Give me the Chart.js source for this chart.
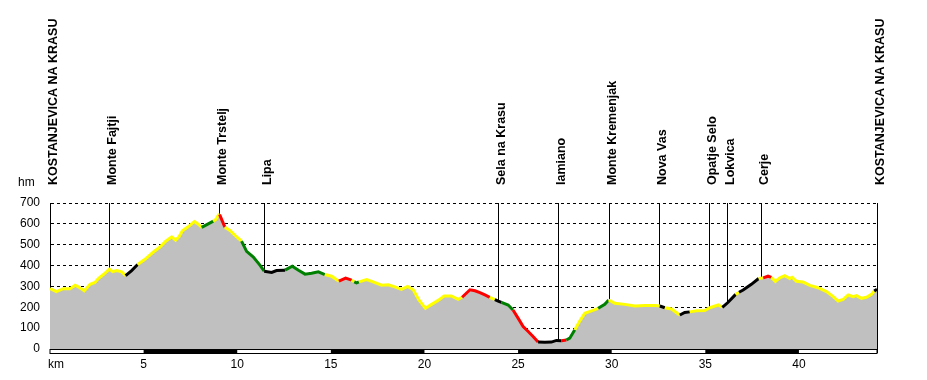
<!DOCTYPE html>
<html>
<head>
<meta charset="utf-8">
<script src="https://cdn.jsdelivr.net/npm/chart.js@4/dist/chart.umd.min.js"></script>
<style>
    html, body { margin: 0; padding: 0; background: #fff; }
    #wrap { width: 927px; height: 380px; }
</style>
</head>
<body>
<div id="wrap"><canvas id="profile"></canvas></div>
<script>
// distance along the route (km)
const KM = [
    0.00, 0.34, 0.71, 1.07, 1.34, 1.51, 1.83, 2.14, 2.40, 2.58, 2.85, 3.17, 3.35, 3.56, 3.83,
    4.04, 4.36, 4.68, 5.07, 5.52, 5.87, 6.18, 6.50, 6.71, 6.89, 7.07, 7.39, 7.71, 7.92,
    8.10, 8.45, 8.72, 8.85, 9.00, 9.06, 9.34, 9.61, 9.97, 10.23, 10.50, 10.86, 11.21,
    11.44, 11.84, 12.10, 12.55, 12.94, 13.27, 13.62, 13.97, 14.33, 14.68, 15.04, 15.43,
    15.79, 16.11, 16.25, 16.37, 16.50, 16.91, 17.26, 17.71, 18.06, 18.42, 18.77, 19.10,
    19.40, 19.70, 20.05, 20.38, 20.73, 21.05, 21.44, 21.80, 22.01, 22.43, 22.70, 22.96,
    23.23, 23.49, 23.76, 23.94, 24.11, 24.47, 24.73, 25.00, 25.27, 25.54, 25.80, 26.07,
    26.43, 26.78, 27.05, 27.32, 27.58, 27.76, 28.03, 28.30, 28.56, 28.92, 29.28, 29.63,
    29.84, 30.17, 30.70, 31.24, 31.77, 32.31, 32.57, 32.84, 33.20, 33.55, 33.64, 33.90,
    34.17, 34.53, 34.97, 35.24, 35.69, 35.91, 36.22, 36.62, 36.80, 37.02, 37.46, 37.85,
    38.09, 38.35, 38.53, 38.74, 38.98, 39.24, 39.51, 39.63, 39.86, 40.22, 40.58, 41.02,
    41.47, 41.83, 42.09, 42.36, 42.63, 42.90, 43.07, 43.34, 43.61, 43.87, 44.02, 44.17,
];

// elevation (m)
const ELEV = [
    290, 275, 289, 289, 306, 298, 279, 310, 319, 338, 357, 383, 371, 376, 370,
    352, 376, 405, 430, 465, 489, 517, 538, 522, 538, 567, 587, 611, 598,
    583, 600, 613, 621, 643, 644, 584, 568, 537, 517, 468, 441, 402,
    373, 367, 376, 378, 397, 378, 359, 363, 370, 357, 349, 325,
    340, 330, 322, 317, 322, 333, 322, 306, 308, 298, 286, 300,
    284, 235, 195, 214, 233, 254, 254, 238, 248, 284, 279, 270,
    259, 248, 237, 230, 224, 211, 187, 148, 108, 84, 60, 33,
    32, 33, 41, 40, 43, 52, 92, 135, 171, 183, 195, 214,
    235, 219, 214, 206, 208, 208, 206, 198, 192, 168, 163, 175,
    178, 183, 184, 198, 211, 200, 224, 262, 272, 283, 310, 338,
    341, 349, 343, 324, 341, 352, 338, 344, 325, 321, 305, 294,
    275, 251, 230, 238, 259, 251, 256, 243, 248, 262, 278, 287,
];

// gradient class of the segment starting at each point
const GRADE = [
    "Y", "Y", "Y", "Y", "Y", "Y", "Y", "Y", "Y", "Y", "Y", "Y", "Y", "Y", "Y",
    "K", "K", "Y", "Y", "Y", "Y", "Y", "Y", "Y", "Y", "Y", "Y", "Y", "Y",
    "G", "G", "Y", "Y", "Y", "R", "Y", "Y", "Y", "G", "G", "G", "G",
    "K", "K", "K", "G", "G", "G", "G", "G", "G", "Y", "Y", "R",
    "R", "Y", "G", "G", "Y", "Y", "Y", "Y", "Y", "Y", "Y", "Y",
    "Y", "Y", "Y", "Y", "Y", "Y", "Y", "Y", "R", "R", "R", "R",
    "R", "Y", "K", "K", "G", "G", "R", "R", "R", "R", "R", "K",
    "K", "K", "K", "R", "G", "G", "Y", "Y", "Y", "Y", "G", "G",
    "Y", "Y", "Y", "Y", "Y", "Y", "K", "Y", "Y", "Y", "K", "K",
    "Y", "Y", "Y", "Y", "Y", "K", "K", "Y", "K", "K", "K", "Y",
    "R", "R", "Y", "Y", "Y", "Y", "Y", "Y", "Y", "Y", "Y", "Y",
    "Y", "Y", "Y", "Y", "Y", "Y", "Y", "Y", "Y", "Y", "K", "K",
];

const MARKER_NAMES = [
    "KOSTANJEVICA NA KRASU", "Monte Fajtji", "Monte Trstelj", "Lipa", "Sela na Krasu",
    "Iamiano", "Monte Kremenjak", "Nova Vas", "Opatje Selo", "Lokvica", "Cerje",
    "KOSTANJEVICA NA KRASU",
];
const MARKER_KM = [0, 3.17, 9.04, 11.44, 23.94, 27.14, 29.86, 32.53, 35.22, 36.18, 38.0, 44.17];

const GRADE_COLORS = { Y: "#ffff00", K: "#000000", G: "#008000", R: "#ff0000" };
const FONT = "Liberation Sans, Arial, sans-serif";

const points = KM.map((km, i) => ({ x: km, y: ELEV[i] }));

// markers, km bar and axis captions
const profileDecor = {
    id: "profileDecor",
    beforeDatasetsDraw(chart) {
        const { ctx, chartArea, scales } = chart;
        ctx.save();
        ctx.strokeStyle = "#000";
        ctx.lineWidth = 1;
        MARKER_KM.forEach((km) => {
            const x = Math.round(scales.x.getPixelForValue(km)) + 0.5;
            ctx.beginPath();
            ctx.moveTo(x, chartArea.top);
            ctx.lineTo(x, chartArea.bottom);
            ctx.stroke();
        });
        ctx.restore();
    },
    afterDatasetsDraw(chart) {
        const { ctx, chartArea, scales } = chart;
        ctx.save();

        // right border
        ctx.strokeStyle = "#000";
        ctx.lineWidth = 1;
        const xr = Math.round(chartArea.right) + 0.5;
        ctx.beginPath();
        ctx.moveTo(xr, chartArea.top);
        ctx.lineTo(xr, chartArea.bottom + 4);
        ctx.stroke();

        // km bar, 5 km blocks
        const y0 = Math.round(chartArea.bottom) + 0.5;
        ctx.fillStyle = "#fff";
        ctx.fillRect(chartArea.left, y0, chartArea.right - chartArea.left, 4);
        ctx.fillStyle = "#000";
        for (let km = 5; km < scales.x.max; km += 10) {
            const a = scales.x.getPixelForValue(km);
            const b = scales.x.getPixelForValue(Math.min(km + 5, scales.x.max));
            ctx.fillRect(a, y0, b - a, 4);
        }
        ctx.strokeRect(chartArea.left, y0, chartArea.right - chartArea.left, 4);

        // marker names
        ctx.fillStyle = "#000";
        ctx.font = "bold 12.5px " + FONT;
        ctx.textAlign = "left";
        ctx.textBaseline = "alphabetic";
        MARKER_KM.forEach((km, i) => {
            const x = scales.x.getPixelForValue(km) + 7;
            ctx.save();
            ctx.translate(x, 185);
            ctx.rotate(-Math.PI / 2);
            ctx.fillText(MARKER_NAMES[i], 0, 0);
            ctx.restore();
        });

        ctx.font = "12px " + FONT;
        ctx.fillText("hm", 18, 186);
        ctx.fillText("km", 48, 368);
        ctx.restore();
    },
};

new Chart(document.getElementById("profile"), {
    type: "line",
    data: {
        datasets: [
            {
                // gray area under the profile
                data: points,
                borderWidth: 0,
                borderColor: "rgba(0,0,0,0)",
                backgroundColor: "#c0c0c0",
                fill: "origin",
                pointRadius: 0,
                tension: 0,
                order: 2,
            },
            {
                // profile line coloured by gradient
                data: points,
                borderWidth: 3,
                borderColor: "#ffff00",
                fill: false,
                pointRadius: 0,
                tension: 0,
                order: 1,
                segment: {
                    borderColor: (c) => GRADE_COLORS[GRADE[c.p0DataIndex]],
                },
            },
        ],
    },
    options: {
        responsive: true,
        maintainAspectRatio: false,
        animation: false,
        events: [],
        layout: { padding: { top: 203, right: 50, bottom: 0, left: 0 } },
        plugins: { legend: { display: false }, tooltip: { enabled: false } },
        scales: {
            x: {
                type: "linear",
                min: 0,
                max: KM[KM.length - 1],
                grid: { display: false, drawTicks: false },
                border: { display: false },
                ticks: {
                    stepSize: 5,
                    padding: 8,
                    maxRotation: 0,
                    color: "#000",
                    font: { family: FONT, size: 12 },
                    callback: (v) => (v === 0 || v % 5 !== 0 ? "" : v),
                },
                afterFit: (s) => { s.height = 31; },
            },
            y: {
                min: 0,
                max: 700,
                grid: {
                    color: (c) => (c.tick.value === 0 ? "rgba(0,0,0,0)" : "#000"),
                    drawTicks: false,
                },
                border: { display: true, color: "#000", dash: [3, 3] },
                ticks: {
                    stepSize: 100,
                    padding: 10,
                    color: "#000",
                    font: { family: FONT, size: 12 },
                },
                afterFit: (s) => { s.width = 50; },
            },
        },
    },
    plugins: [profileDecor],
});
</script>
</body>
</html>
